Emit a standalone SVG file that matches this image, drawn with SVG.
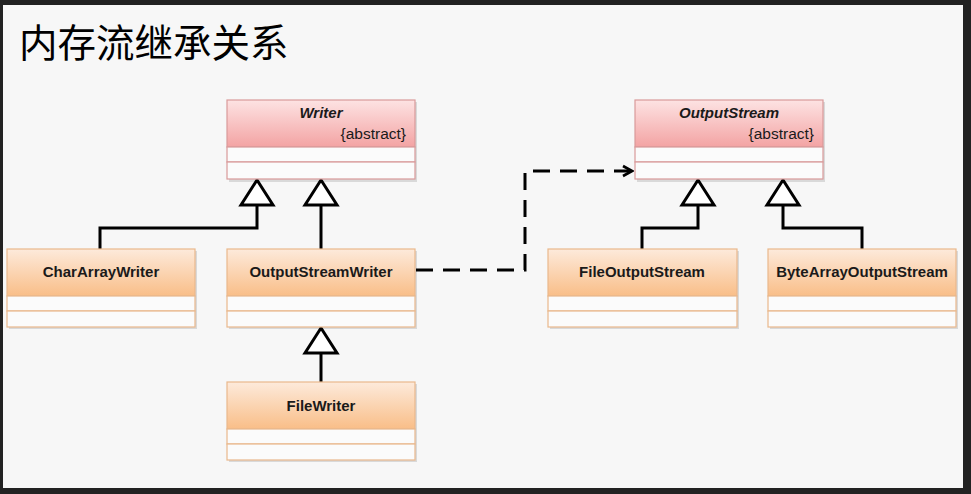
<svg xmlns="http://www.w3.org/2000/svg" width="971" height="494" viewBox="0 0 971 494">
<defs>
<linearGradient id="gPink" x1="0" y1="0" x2="0" y2="1">
<stop offset="0" stop-color="#fde3e3"/>
<stop offset="1" stop-color="#f3a3a3"/>
</linearGradient>
<linearGradient id="gOrange" x1="0" y1="0" x2="0" y2="1">
<stop offset="0" stop-color="#fdeadb"/>
<stop offset="1" stop-color="#f9be88"/>
</linearGradient>
<marker id="open" markerWidth="14" markerHeight="14" refX="12" refY="7" orient="auto" markerUnits="userSpaceOnUse">
<path d="M3,2 L12,7 L3,12" fill="none" stroke="#000" stroke-width="2.6"/>
</marker>
</defs>
<style>
.shadow{fill:#000;opacity:0.12}
.pink .head{fill:url(#gPink);stroke:#d99a9a;stroke-width:1.2}
.pink .row{fill:#fbfbfb;stroke:#d99a9a;stroke-width:1.2}
.orange .head{fill:url(#gOrange);stroke:#e9b88c;stroke-width:1.2}
.orange .row{fill:#fbfbfb;stroke:#e9b88c;stroke-width:1.2}
.name{font-family:"Liberation Sans",Arial,sans-serif;font-weight:bold;font-size:15px;fill:#1a1a1a;text-anchor:middle}
.abs{font-style:italic}
.tag{font-family:"Liberation Sans",Arial,sans-serif;font-size:15.5px;fill:#1a1a1a;text-anchor:end}
.line{fill:none;stroke:#000;stroke-width:3}
.tri{fill:#fff;stroke:#000;stroke-width:3;stroke-linejoin:miter}
.dash{fill:none;stroke:#000;stroke-width:3;stroke-dasharray:17 10}
</style>
<rect x="0" y="0" width="971" height="494" fill="#222"/>
<rect x="3" y="5" width="960" height="483" fill="#f7f7f7"/>
<text x="19" y="57" font-family="'Noto Sans CJK SC',sans-serif" font-size="38.5" fill="#000">内存流继承关系</text>

<g id="connectors">
<path class="line" d="M257,205 V228 H100 V249"/>
<path class="line" d="M321,205 V249"/>
<path class="line" d="M321,353 V382"/>
<path class="line" d="M698,205 V228 H642 V249"/>
<path class="line" d="M783,205 V228 H862 V249"/>
<polygon class="tri" points="257,180 241,205 273,205"/>
<polygon class="tri" points="321,180 305,205 337,205"/>
<polygon class="tri" points="321,328 305,353 337,353"/>
<polygon class="tri" points="698,180 682,205 714,205"/>
<polygon class="tri" points="783,180 767,205 799,205"/>
<path class="dash" d="M416,270 H525 V171 H632" marker-end="url(#open)"/>
</g>

<g id="Writer" class="pink">
<rect class="shadow" x="229" y="102" width="188" height="80"/>
<rect class="head" x="227" y="100" width="188" height="47"/>
<rect class="row" x="227" y="147" width="188" height="15"/>
<rect class="row" x="227" y="162" width="188" height="17"/>
<text class="name abs" x="321" y="118">Writer</text>
<text class="tag" x="406" y="139">{abstract}</text>
</g>

<g id="OutputStream" class="pink">
<rect class="shadow" x="637" y="102" width="188" height="80"/>
<rect class="head" x="635" y="100" width="188" height="47"/>
<rect class="row" x="635" y="147" width="188" height="15"/>
<rect class="row" x="635" y="162" width="188" height="17"/>
<text class="name abs" x="729" y="118">OutputStream</text>
<text class="tag" x="814" y="139">{abstract}</text>
</g>

<g id="CharArrayWriter" class="orange">
<rect class="shadow" x="9" y="251" width="188" height="78"/>
<rect class="head" x="7" y="249" width="188" height="47"/>
<rect class="row" x="7" y="296" width="188" height="15"/>
<rect class="row" x="7" y="311" width="188" height="16"/>
<text class="name" x="101" y="277">CharArrayWriter</text>
</g>

<g id="OutputStreamWriter" class="orange">
<rect class="shadow" x="229" y="251" width="188" height="78"/>
<rect class="head" x="227" y="249" width="188" height="47"/>
<rect class="row" x="227" y="296" width="188" height="15"/>
<rect class="row" x="227" y="311" width="188" height="16"/>
<text class="name" x="321" y="277">OutputStreamWriter</text>
</g>

<g id="FileWriter" class="orange">
<rect class="shadow" x="229" y="384" width="188" height="78"/>
<rect class="head" x="227" y="382" width="188" height="47"/>
<rect class="row" x="227" y="429" width="188" height="15"/>
<rect class="row" x="227" y="444" width="188" height="16"/>
<text class="name" x="321" y="411">FileWriter</text>
</g>

<g id="FileOutputStream" class="orange">
<rect class="shadow" x="550" y="251" width="189" height="78"/>
<rect class="head" x="548" y="249" width="189" height="47"/>
<rect class="row" x="548" y="296" width="189" height="15"/>
<rect class="row" x="548" y="311" width="189" height="16"/>
<text class="name" x="642" y="277">FileOutputStream</text>
</g>

<g id="ByteArrayOutputStream" class="orange">
<rect class="shadow" x="770" y="251" width="188" height="78"/>
<rect class="head" x="768" y="249" width="188" height="47"/>
<rect class="row" x="768" y="296" width="188" height="15"/>
<rect class="row" x="768" y="311" width="188" height="16"/>
<text class="name" x="862" y="277">ByteArrayOutputStream</text>
</g>
</svg>
